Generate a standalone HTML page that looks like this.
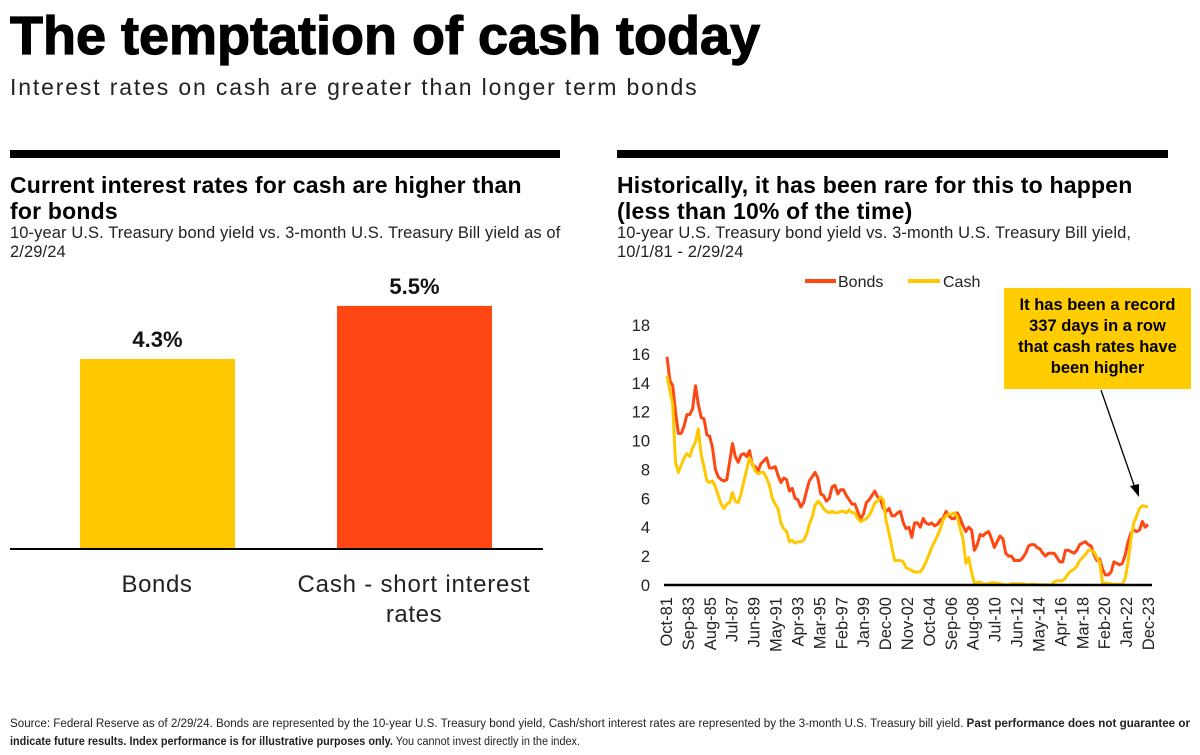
<!DOCTYPE html>
<html><head><meta charset="utf-8">
<style>
body{margin:0;width:1200px;height:755px;background:#fff;font-family:"Liberation Sans",sans-serif;color:#000;overflow:hidden;position:relative}
.abs{position:absolute}
</style></head><body>
<div class="abs" style="left:10px;top:5px;font-size:54px;font-weight:bold;letter-spacing:0px;-webkit-text-stroke:1.2px #000">The temptation of cash today</div>
<div class="abs" style="left:10px;top:74px;font-size:23px;color:#222;letter-spacing:1.85px">Interest rates on cash are greater than longer term bonds</div>

<div class="abs" style="left:10px;top:150px;width:550px;height:8px;background:#000"></div>
<div class="abs" style="left:617px;top:150px;width:551px;height:8px;background:#000"></div>

<div class="abs" style="left:10px;top:172px;width:580px;font-size:23px;letter-spacing:0.2px;font-weight:bold;line-height:26px;white-space:nowrap">Current interest rates for cash are higher than<br>for bonds</div>
<div class="abs" style="left:10px;top:224px;width:590px;font-size:16.5px;letter-spacing:0.1px;line-height:19px;color:#222;white-space:nowrap">10-year U.S. Treasury bond yield vs. 3-month U.S. Treasury Bill yield as of<br>2/29/24</div>

<div class="abs" style="left:617px;top:172px;width:580px;font-size:23px;letter-spacing:0.2px;font-weight:bold;line-height:26px;white-space:nowrap">Historically, it has been rare for this to happen<br>(less than 10% of the time)</div>
<div class="abs" style="left:617px;top:224px;width:580px;font-size:16.5px;letter-spacing:0.1px;line-height:19px;color:#222;white-space:nowrap">10-year U.S. Treasury bond yield vs. 3-month U.S. Treasury Bill yield,<br>10/1/81 - 2/29/24</div>

<svg class="abs" style="left:0;top:0" width="1200" height="755" id="svg">
<g id="bars"></g>
<g id="lines"></g>
<g font-size="11.5" fill="#222">
<text x="10" y="727" textLength="1180" lengthAdjust="spacingAndGlyphs">Source: Federal Reserve as of 2/29/24. Bonds are represented by the 10-year U.S. Treasury bond yield, Cash/short interest rates are represented by the 3-month U.S. Treasury bill yield. <tspan font-weight="bold">Past performance does not guarantee or</tspan></text>
<text x="10" y="745" textLength="570" lengthAdjust="spacingAndGlyphs"><tspan font-weight="bold">indicate future results. Index performance is for illustrative purposes only.</tspan> You cannot invest directly in the index.</text>
</g>
</svg>

<div class="abs" style="left:1004px;top:288px;width:187px;height:101px;background:#FFCC00;font-size:16.5px;font-weight:bold;text-align:center;line-height:21px;padding-top:7px;box-sizing:border-box;white-space:nowrap">It has been a record<br>337 days in a row<br>that cash rates have<br>been higher</div>

<script>
const barCats=["Bonds","Cash - short interest rates"];
const barVals=[4.3,5.5];
const barLabels=["4.3%","5.5%"];
const yTicks=[0,2,4,6,8,10,12,14,16,18];
const xTickLabels=["Oct-81","Sep-83","Aug-85","Jul-87","Jun-89","May-91","Apr-93","Mar-95","Feb-97","Jan-99","Dec-00","Nov-02","Oct-04","Sep-06","Aug-08","Jul-10","Jun-12","May-14","Apr-16","Mar-18","Feb-20","Jan-22","Dec-23"];
const bonds=[15.8,
14.2,13.8,12.0,10.5, 10.5,11.0,11.8,11.8, 12.2,13.8,12.5,11.6, 11.5,10.4,10.3,9.5,
8.0,7.5,7.3,7.2, 7.3,8.5,9.8,8.9, 8.5,9.0,9.1,8.9, 9.3,8.3,8.2,7.9,
8.4,8.6,8.8,8.1, 8.1,8.2,7.6,7.1, 7.4,7.3,6.5,6.7, 6.0,5.9,5.4,5.7,
6.5,7.2,7.5,7.8, 7.4,6.3,6.2,5.8, 6.0,6.8,6.9,6.3, 6.6,6.6,6.2,5.9,
5.6,5.6,5.1,4.6, 4.9,5.7,5.9,6.2, 6.5,6.1,5.9,5.3, 5.1,5.3,4.8,4.8,
5.0,5.1,4.3,3.9, 4.0,3.3,4.3,4.3, 4.0,4.6,4.3,4.2, 4.3,4.1,4.2,4.5,
4.6,5.1,4.8,4.6, 4.6,5.0,4.6,4.1, 3.7,4.0,3.8,2.4, 2.8,3.5,3.4,3.6,
3.7,3.2,2.6,3.0, 3.4,3.2,2.2,2.0, 2.0,1.7,1.7,1.7, 1.9,2.2,2.7,2.8,
2.8,2.6,2.5,2.2, 2.0,2.2,2.2,2.2, 1.9,1.6,1.6,2.4, 2.4,2.3,2.2,2.4,
2.8,2.9,3.0,2.8, 2.7,2.1,1.7,1.8, 1.1,0.7,0.7,0.9, 1.6,1.5,1.4,1.5,
2.1,3.0,3.6,3.8, 3.7,3.8,4.4,4.0, 4.2];
const cash=[14.5,
13.5,12.5,8.5,7.8, 8.3,8.8,9.1,8.9, 9.5,9.9,10.8,9.0, 8.2,7.2,7.1,7.2,
6.8,6.2,5.6,5.3, 5.6,5.7,6.4,5.8, 5.7,6.3,7.2,8.0, 8.8,8.4,7.9,7.7,
7.8,7.8,7.4,6.9, 6.0,5.6,5.3,4.3, 3.9,3.7,3.0,3.1, 2.9,3.0,3.0,3.1,
3.5,4.2,4.7,5.5, 5.8,5.6,5.3,5.1, 5.0,5.1,5.0,5.0, 5.1,5.1,5.0,5.2,
5.0,5.0,4.6,4.4, 4.5,4.6,4.8,5.2, 5.7,5.8,6.1,5.9, 4.4,3.6,2.6,1.7,
1.7,1.7,1.6,1.2, 1.1,1.0,0.9,0.9, 0.9,1.2,1.6,2.1, 2.6,3.0,3.4,3.9,
4.5,4.8,4.9,4.9, 5.0,4.7,3.9,3.2, 1.5,1.9,0.9,0.1, 0.2,0.2,0.1,0.05,
0.1,0.15,0.15,0.13, 0.1,0.05,0.02,0.01, 0.08,0.09,0.1,0.07, 0.08,0.05,0.02,0.07,
0.04,0.03,0.02,0.03, 0.02,0.01,0.01,0.2, 0.3,0.3,0.3,0.5, 0.8,1.0,1.1,1.3,
1.7,1.9,2.1,2.4, 2.4,2.3,1.9,1.6, 0.1,0.15,0.1,0.09, 0.03,0.05,0.04,0.05,
0.5,1.6,3.2,4.3, 4.8,5.3,5.5,5.45, 5.4];

const NS="http://www.w3.org/2000/svg";
function mk(parent,tag,attrs,text){const e=document.createElementNS(NS,tag);for(const k in attrs)e.setAttribute(k,attrs[k]);if(text!==undefined)e.textContent=text;parent.appendChild(e);return e;}

const bg=document.getElementById('bars');
const barBase=549, barScale=44.2, barX=[80,337], barW=155, barColors=["#FFC800","#FF4713"];
function by(v){return barBase-v*barScale;}
barVals.forEach((v,i)=>{
  const r=mk(bg,'rect',{x:barX[i],y:by(v),width:barW,height:barBase-by(v),fill:barColors[i]});
  
  
  const t=mk(bg,'text',{x:barX[i]+barW/2,y:by(v)-12,'text-anchor':'middle','font-size':22,'font-weight':'bold',fill:'#111'},barLabels[i]);
  
  
});
const bl=mk(bg,'line',{x1:10,x2:543,y1:barBase,y2:barBase,stroke:'#000','stroke-width':2});


const c1=mk(bg,'text',{x:157,y:592,'text-anchor':'middle','font-size':24,fill:'#222','letter-spacing':0.6},barCats[0]);


const c2=mk(bg,'text',{x:414,y:592,'text-anchor':'middle','font-size':24,fill:'#222','letter-spacing':0.8},"Cash - short interest");


const c3=mk(bg,'text',{x:414,y:622,'text-anchor':'middle','font-size':24,fill:'#222','letter-spacing':0.6},"rates");



const lg=document.getElementById('lines');
const x0=667,x1=1150,y0=585,pxPer=14.44;
const t0=1981.75, tN=2024.17;
function xs(t){return x0+(t-t0)/(tN-t0)*(x1-x0);}
function ys(v){return y0-v*pxPer;}
yTicks.forEach(v=>{
  const t=mk(lg,'text',{x:650,y:ys(v)+6,'text-anchor':'end','font-size':16.5,fill:'#222'},v);
  
  
});
xTickLabels.forEach((lab,i)=>{
  const x=x0-1+i*(1148-x0+1)/(xTickLabels.length-1);
  const t=mk(lg,'text',{x:0,y:0,'text-anchor':'end','font-size':16.5,fill:'#222',transform:`translate(${x+6},${y0+12}) rotate(-90)`},lab);
  
  
});
function path(arr){return arr.map((v,i)=>(i?'L':'M')+xs(t0+i*0.25).toFixed(1)+','+ys(v).toFixed(1)).join('');}
const pb=mk(lg,'path',{d:path(bonds),fill:'none',stroke:'#FF4713','stroke-width':3,'stroke-linejoin':'round'});


const pc=mk(lg,'path',{d:path(cash),fill:'none',stroke:'#FFC800','stroke-width':3,'stroke-linejoin':'round'});


const ax=mk(lg,'line',{x1:664,x2:1152,y1:y0,y2:y0,stroke:'#000','stroke-width':2.5});


const l1=mk(lg,'line',{x1:805,x2:836,y1:281,y2:281,stroke:'#FF4713','stroke-width':4});


const lt1=mk(lg,'text',{x:838,y:287,'font-size':16,fill:'#222'},'Bonds');


const l2=mk(lg,'line',{x1:908,x2:940,y1:281,y2:281,stroke:'#FFC800','stroke-width':4});


const lt2=mk(lg,'text',{x:943,y:287,'font-size':16,fill:'#222'},'Cash');


const ar=mk(lg,'line',{x1:1101,y1:390,x2:1135,y2:488,stroke:'#000','stroke-width':1.3});


const ah=mk(lg,'polygon',{points:'1139,497 1130,486 1139,484',fill:'#000'});


</script>
</body></html>
